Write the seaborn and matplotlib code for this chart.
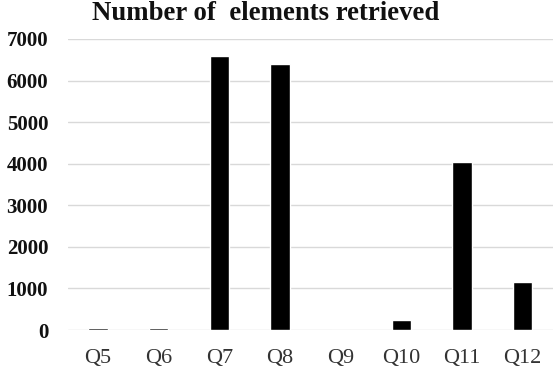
import matplotlib
matplotlib.use("Agg")
import matplotlib.pyplot as plt
import seaborn as sns
import pandas as pd

categories = ["Q5", "Q6", "Q7", "Q8", "Q9", "Q10", "Q11", "Q12"]
values = [45, 45, 6580, 6410, 0, 230, 4030, 1150]
yticks = [0, 1000, 2000, 3000, 4000, 5000, 6000, 7000]
title = "Number of  elements retrieved"

sns.set_theme(style="white")
plt.rcParams["font.family"] = ["Liberation Serif", "DejaVu Serif"]

df = pd.DataFrame({"query": categories, "count": values})

fig = plt.figure(figsize=(5.56, 3.84), dpi=100)
ax = fig.add_axes([67.6 / 556, 1 - 330 / 384, (553 - 67.6) / 556, (330 - 39) / 384])

sns.barplot(data=df, x="query", y="count", color="black", width=0.32,
            saturation=1, ax=ax, zorder=3)

ax.set_ylim(0, 7000)
ax.set_yticks(yticks)
ax.set_yticklabels([str(t) for t in yticks], fontweight="bold", fontsize=15)
ax.tick_params(axis="x", labelsize=16, colors="#333333", length=0, pad=14)
ax.tick_params(axis="y", length=0, pad=14)
for lbl in ax.get_yticklabels():
    lbl.set_color("#111111")
ax.yaxis.grid(True, color="#d9d9d9", linewidth=1.0, zorder=0)
ax.set_axisbelow(True)
for s in ax.spines.values():
    s.set_visible(False)
ax.set_xlabel("")
ax.set_ylabel("")
fig.text(266 / 556, 1 - 19.5 / 384, title, ha="center", va="baseline",
         fontsize=19.3, fontweight="bold", color="#111111")

fig.savefig("out.png", dpi=100)
